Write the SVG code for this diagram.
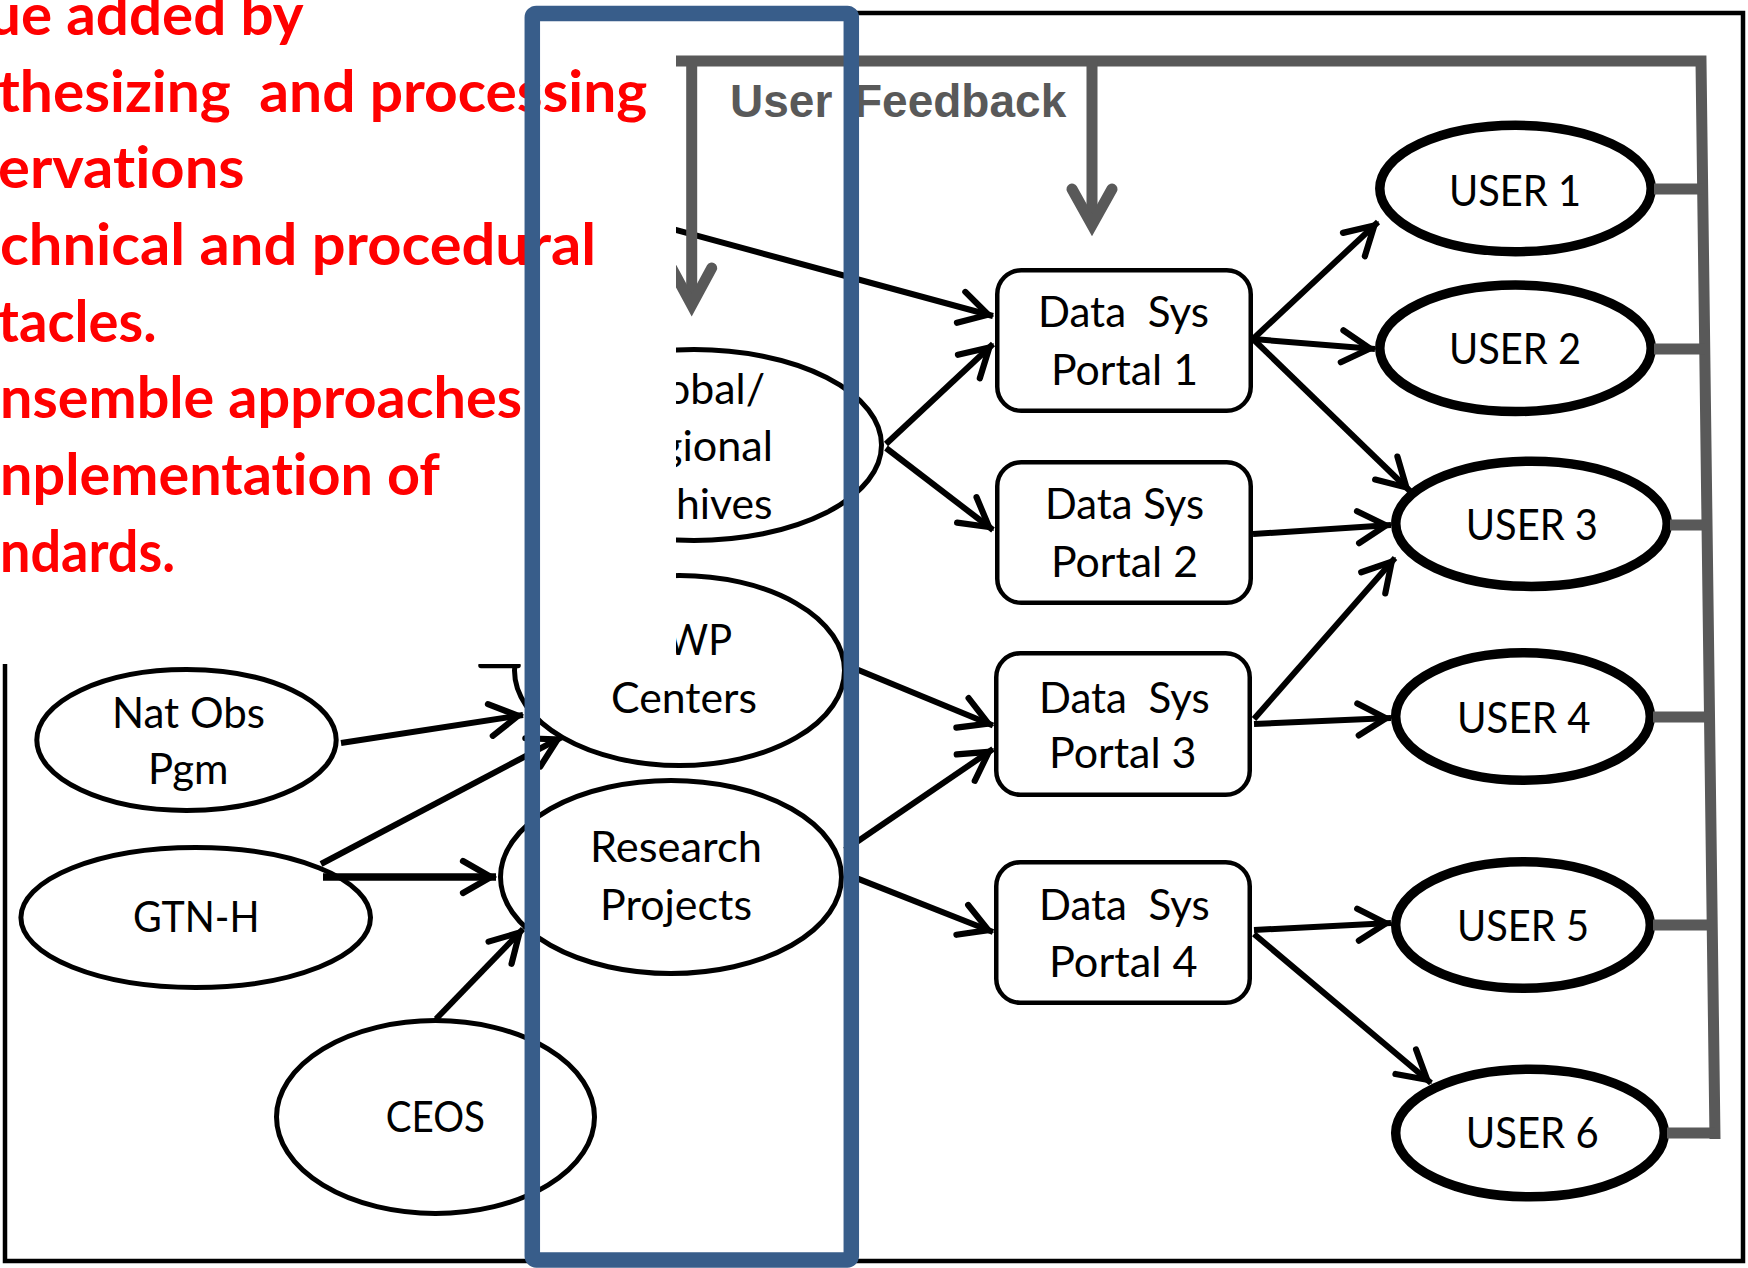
<svg xmlns="http://www.w3.org/2000/svg" width="1748" height="1268" viewBox="0 0 1748 1268">
<style>
text{font-variant-ligatures:none;font-feature-settings:"liga" 0,"clig" 0}
.red{font-family:Lato,"Open Sans","Liberation Sans",sans-serif;font-weight:700;font-size:58px;fill:#FF0000}
.lbl{font-family:Lato,"Open Sans","Liberation Sans",sans-serif;font-size:42px;fill:#000}
.fb{font-family:"Liberation Sans",Arial,sans-serif;font-weight:700;font-size:46px;fill:#595959}
.nd{fill:#fff;stroke:#000;stroke-width:5}
.usr{fill:#fff;stroke:#000;stroke-width:9.5}
.box{fill:#fff;stroke:#000;stroke-width:4.5}
.gray{fill:none;stroke:#595959;stroke-width:11}
</style>
<defs>
<marker id="ah" viewBox="-40 -25 50 50" markerWidth="50" markerHeight="50" markerUnits="userSpaceOnUse" refX="5" refY="0" orient="auto">
<path d="M-28,-16 L0,0 L-28,16" fill="none" stroke="#000" stroke-width="6.2" stroke-linecap="round" stroke-linejoin="miter"/>
</marker>
</defs>
<rect width="1748" height="1268" fill="#fff"/>
<rect id="frame" x="5" y="13" width="1738" height="1248" fill="none" stroke="#000" stroke-width="4.5"/>

<g id="archives"><ellipse class="nd" cx="694" cy="445" rx="187.5" ry="95.5"/>
<text class="lbl" x="666" y="403.7" textLength="99" lengthAdjust="spacingAndGlyphs">obal/</text>
<text class="lbl" x="660" y="461" textLength="113" lengthAdjust="spacingAndGlyphs">gional</text>
<text class="lbl" x="676" y="518.6" textLength="96.5" lengthAdjust="spacingAndGlyphs">hives</text></g>
<g id="wp-centers"><ellipse class="nd" cx="679.5" cy="670.5" rx="165" ry="95" stroke-width="5.5"/>
<line x1="481" y1="665.5" x2="518" y2="665.5" stroke="#000" stroke-width="5.5" stroke-linecap="round"/>
<text class="lbl" x="667" y="654.5" textLength="65" lengthAdjust="spacingAndGlyphs">WP</text>
<text class="lbl" x="611" y="713" textLength="146" lengthAdjust="spacingAndGlyphs">Centers</text></g>
<g id="research"><ellipse class="nd" cx="671" cy="877" rx="170.5" ry="96.5" stroke-width="5.5"/>
<text class="lbl" x="590" y="862" textLength="172" lengthAdjust="spacingAndGlyphs">Research</text>
<text class="lbl" x="600" y="919.6" textLength="152" lengthAdjust="spacingAndGlyphs">Projects</text></g>
<g id="natobs"><ellipse class="nd" cx="186.5" cy="740" rx="149.7" ry="70.5"/>
<text class="lbl" x="112" y="727.8" textLength="153" lengthAdjust="spacingAndGlyphs">Nat Obs</text>
<text class="lbl" x="148" y="784" textLength="80.5" lengthAdjust="spacingAndGlyphs">Pgm</text></g>
<g id="gtnh"><ellipse class="nd" cx="195.7" cy="917.5" rx="174.8" ry="70"/>
<text class="lbl" x="133" y="931.5" textLength="126.5" lengthAdjust="spacingAndGlyphs">GTN-H</text></g>
<g id="ceos"><ellipse class="nd" cx="435.5" cy="1117" rx="159" ry="96.4"/>
<text class="lbl" x="385.8" y="1131.7" textLength="99.2" lengthAdjust="spacingAndGlyphs">CEOS</text></g>

<g id="portal1"><rect class="box" x="997.25" y="270.25" width="253.5" height="140.5" rx="24"/>
<text class="lbl" x="1038" y="327" textLength="171" lengthAdjust="spacingAndGlyphs" xml:space="preserve">Data  Sys</text>
<text class="lbl" x="1051" y="384.6" textLength="147" lengthAdjust="spacingAndGlyphs">Portal 1</text></g>
<g id="portal2"><rect class="box" x="997.25" y="462.25" width="253.5" height="140.5" rx="24"/>
<text class="lbl" x="1045" y="519" textLength="159" lengthAdjust="spacingAndGlyphs">Data Sys</text>
<text class="lbl" x="1051" y="576.7" textLength="147" lengthAdjust="spacingAndGlyphs">Portal 2</text></g>
<g id="portal3"><rect class="box" x="996.25" y="653.25" width="253.5" height="141.5" rx="24"/>
<text class="lbl" x="1039" y="713" textLength="170.7" lengthAdjust="spacingAndGlyphs" xml:space="preserve">Data  Sys</text>
<text class="lbl" x="1049" y="768.3" textLength="147.5" lengthAdjust="spacingAndGlyphs">Portal 3</text></g>
<g id="portal4"><rect class="box" x="996.25" y="862.25" width="253.5" height="140.5" rx="24"/>
<text class="lbl" x="1039" y="920.4" textLength="170.7" lengthAdjust="spacingAndGlyphs" xml:space="preserve">Data  Sys</text>
<text class="lbl" x="1049" y="977" textLength="148.6" lengthAdjust="spacingAndGlyphs">Portal 4</text></g>

<g id="user1"><ellipse class="usr" cx="1515.5" cy="188.5" rx="135.7" ry="63.2"/>
<text class="lbl" x="1449" y="205.5" textLength="132" lengthAdjust="spacingAndGlyphs">USER 1</text></g>
<g id="user2"><ellipse class="usr" cx="1515.5" cy="348.3" rx="135.7" ry="63.2"/>
<text class="lbl" x="1449" y="363.6" textLength="132" lengthAdjust="spacingAndGlyphs">USER 2</text></g>
<g id="user3"><ellipse class="usr" cx="1531.5" cy="523.8" rx="135.7" ry="62.6"/>
<text class="lbl" x="1465.7" y="540.4" textLength="132.3" lengthAdjust="spacingAndGlyphs">USER 3</text></g>
<g id="user4"><ellipse class="usr" cx="1523" cy="716.5" rx="127.3" ry="63.8"/>
<text class="lbl" x="1457" y="733" textLength="133.5" lengthAdjust="spacingAndGlyphs">USER 4</text></g>
<g id="user5"><ellipse class="usr" cx="1523" cy="925" rx="127.3" ry="63.3"/>
<text class="lbl" x="1457" y="941" textLength="132" lengthAdjust="spacingAndGlyphs">USER 5</text></g>
<g id="user6"><ellipse class="usr" cx="1530" cy="1133" rx="134.3" ry="63.8"/>
<text class="lbl" x="1465.7" y="1148.4" textLength="133" lengthAdjust="spacingAndGlyphs">USER 6</text></g>

<g id="connectors" fill="none" stroke="#000" stroke-width="6">
<line x1="660" y1="225.6" x2="993" y2="316" marker-end="url(#ah)"/>
<line x1="886" y1="444" x2="993" y2="344" marker-end="url(#ah)"/>
<line x1="886" y1="448" x2="993" y2="530" marker-end="url(#ah)"/>
<line x1="845" y1="664.4" x2="993" y2="725.5" marker-end="url(#ah)"/>
<line x1="845" y1="850" x2="993" y2="749" marker-end="url(#ah)"/>
<line x1="845" y1="873.6" x2="993" y2="932" marker-end="url(#ah)"/>
<line x1="1253" y1="339" x2="1378" y2="222" marker-end="url(#ah)"/>
<line x1="1253" y1="339" x2="1375" y2="349" marker-end="url(#ah)"/>
<line x1="1253" y1="339" x2="1410" y2="491" marker-end="url(#ah)"/>
<line x1="1253" y1="534" x2="1391" y2="525" marker-end="url(#ah)"/>
<line x1="1254" y1="719" x2="1395" y2="558" marker-end="url(#ah)"/>
<line x1="1254" y1="724" x2="1391" y2="718" marker-end="url(#ah)"/>
<line x1="1254" y1="930" x2="1391" y2="923" marker-end="url(#ah)"/>
<line x1="1254" y1="934" x2="1431" y2="1083" marker-end="url(#ah)"/>
<line x1="341" y1="743" x2="523" y2="715" marker-end="url(#ah)"/>
<line x1="321" y1="864" x2="562" y2="737" marker-end="url(#ah)"/>
<line x1="323" y1="877" x2="496" y2="877" stroke-width="7.5" marker-end="url(#ah)"/>
<line x1="436" y1="1019" x2="523" y2="929" marker-end="url(#ah)"/>
</g>

<g id="feedback" class="gray">
<path d="M676,61 L1701,61 L1715,1139" stroke-linejoin="miter"/>
<path d="M1654,189 H1703"/>
<path d="M1654,349 H1705"/>
<path d="M1670,525 H1707"/>
<path d="M1653,717 H1710"/>
<path d="M1653,925 H1712"/>
<path d="M1667,1133 H1715"/>
<path d="M691.7,61 V305"/>
<path d="M671.7,268 L691.7,305 L711.7,268" stroke-linecap="round" stroke-linejoin="miter"/>
<path d="M1092,61 V225"/>
<path d="M1072,189 L1092,225 L1112,189" stroke-linecap="round" stroke-linejoin="miter"/>
</g>
<text class="fb" x="730" y="117.3">User <tspan x="854">Feedback</tspan></text>

<g id="notes">
<rect x="0" y="0" width="676" height="664" fill="#fff"/>
<text class="red" x="-12" y="35" textLength="315.6" lengthAdjust="spacingAndGlyphs">ue added by</text>
<text class="red" x="-2" y="111.7" textLength="649.3" lengthAdjust="spacingAndGlyphs" xml:space="preserve">thesizing  and processing</text>
<text class="red" x="-2" y="188.3" textLength="246.6" lengthAdjust="spacingAndGlyphs">ervations</text>
<text class="red" x="0" y="265" textLength="596" lengthAdjust="spacingAndGlyphs">chnical and procedural</text>
<text class="red" x="-2" y="341.6" textLength="158.5" lengthAdjust="spacingAndGlyphs">tacles.</text>
<text class="red" x="0" y="418.3" textLength="522" lengthAdjust="spacingAndGlyphs">nsemble approaches</text>
<text class="red" x="0" y="495" textLength="440" lengthAdjust="spacingAndGlyphs">nplementation of</text>
<text class="red" x="0" y="571.6" textLength="175" lengthAdjust="spacingAndGlyphs">ndards.</text>
</g>

<rect id="blue-band" x="532.3" y="13.4" width="319" height="1246.6" rx="4" fill="none" stroke="#385D8A" stroke-width="15.5"/>
</svg>
